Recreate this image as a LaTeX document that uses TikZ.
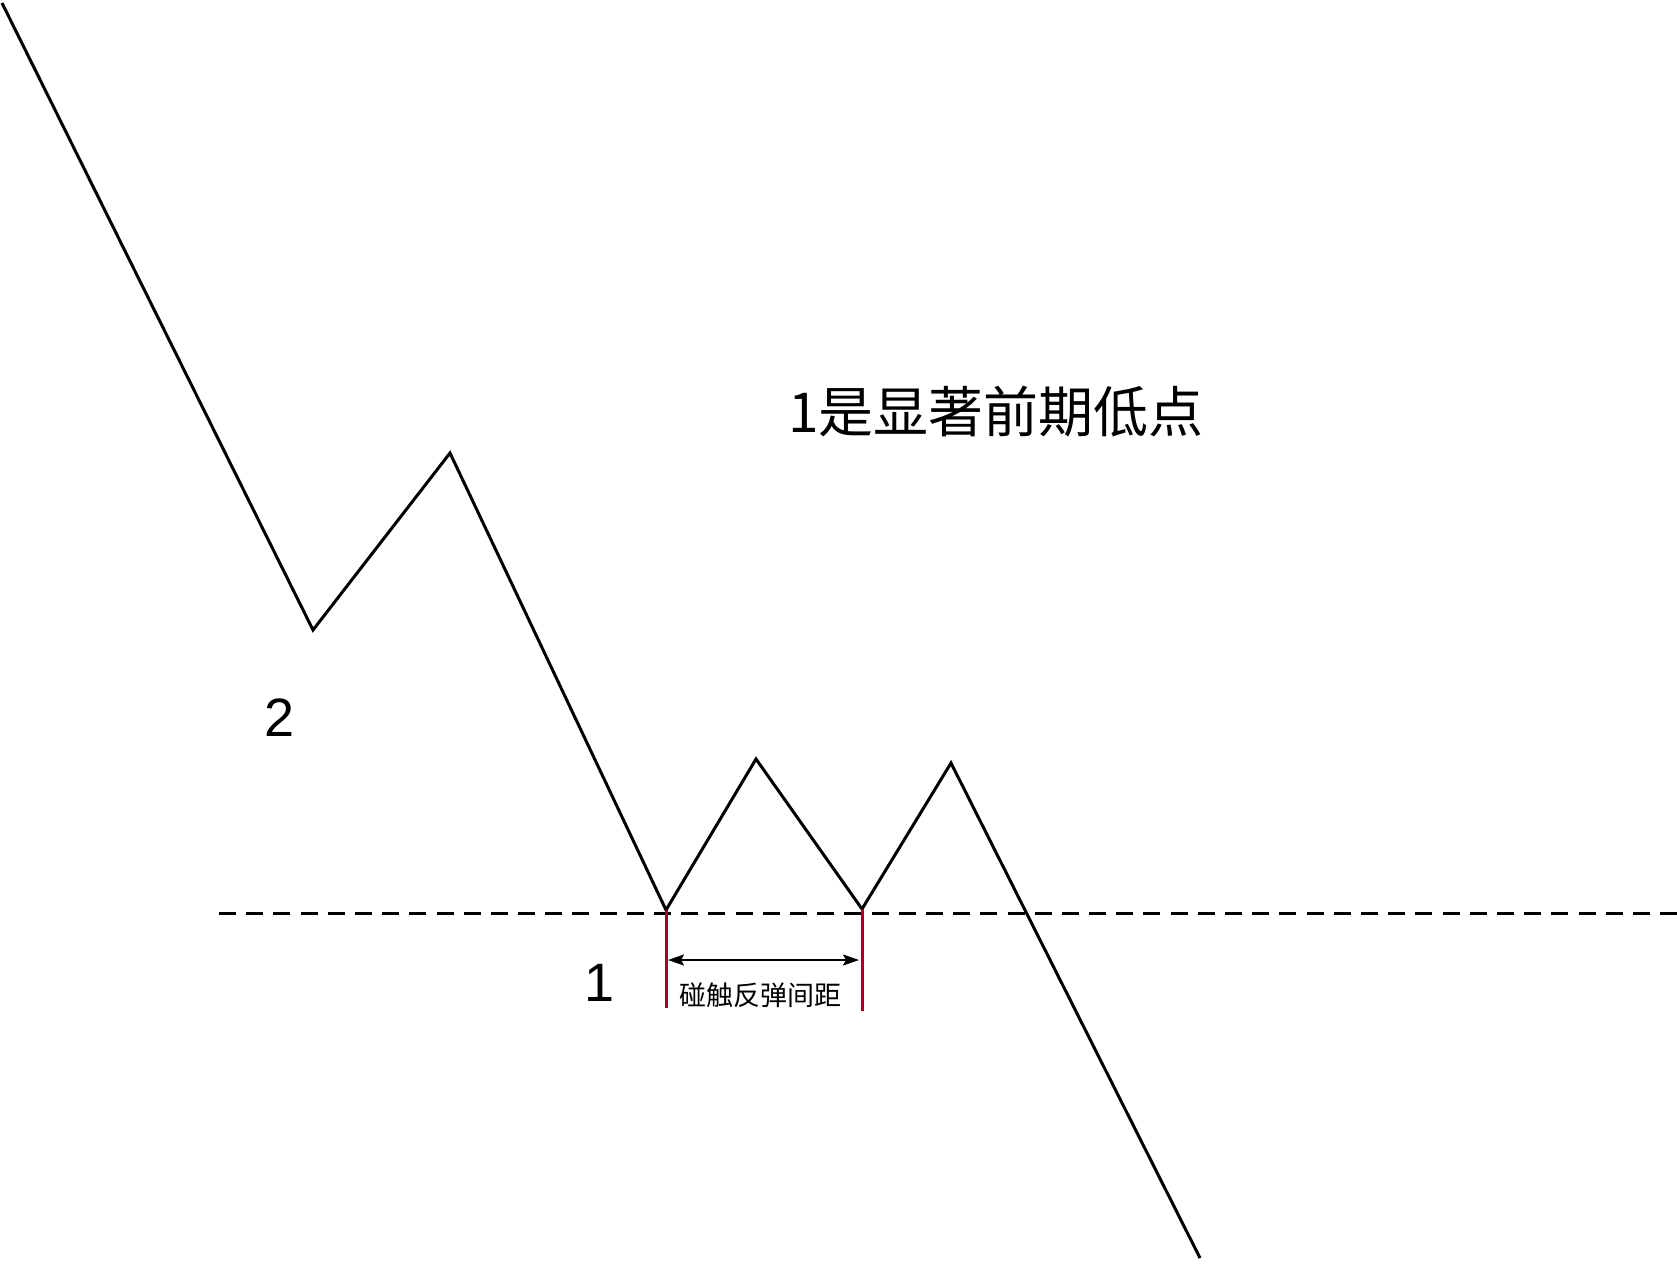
\documentclass[tikz,border=0pt]{standalone}
\usepackage{fontspec}
\setmainfont{Liberation Sans}
\newfontfamily\cjk{Noto Sans CJK SC}
\usetikzlibrary{arrows.meta}
\definecolor{touchred}{HTML}{A20025}

\begin{document}
\begin{tikzpicture}[x=1pt,y=-1pt]
\useasboundingbox (0,0) rectangle (1677,1263);

\coordinate (start) at (2,3);
\coordinate (low2) at (313,630);
\coordinate (top2) at (450,453);
\coordinate (low1) at (666,910);
\coordinate (topa) at (756,759);
\coordinate (lowb) at (862,909);
\coordinate (topb) at (951,763);
\coordinate (stop) at (1200,1258);

\coordinate (supL) at (219,913);
\coordinate (supR) at (1677,913);
\coordinate (tickL) at (666,1008);
\coordinate (tickR) at (862,1011);
\coordinate (arrL) at (668,960);
\coordinate (arrR) at (859,960);

\node[inner sep=0, font=\cjk\fontsize{55}{66}\selectfont] (title) at (996,412) {1是显著前期低点};
\node[inner sep=0, font=\fontsize{54}{64}\selectfont] (two) at (280,718) {2};
\node[inner sep=0, font=\fontsize{54}{64}\selectfont] (one) at (600,983) {1};
\node[inner sep=0, font=\cjk\fontsize{27}{32}\selectfont] (gap) at (760,995) {碰触反弹间距};

\draw[line width=3pt, dash pattern=on 17pt off 10.19pt] (supL) -- (supR);

\draw[line width=3pt] (start) -- (low2) -- (top2) -- (low1) -- (topa) -- (lowb) -- (topb) -- (stop);

\draw[touchred, line width=3pt] (low1) -- (tickL);
\draw[touchred, line width=3pt] (lowb) -- (tickR);

\draw[line width=2pt, {Stealth[length=16pt,width=11pt,inset=3pt]}-{Stealth[length=16pt,width=11pt,inset=3pt]}] (arrL) -- (arrR);

\end{tikzpicture}
\end{document}
